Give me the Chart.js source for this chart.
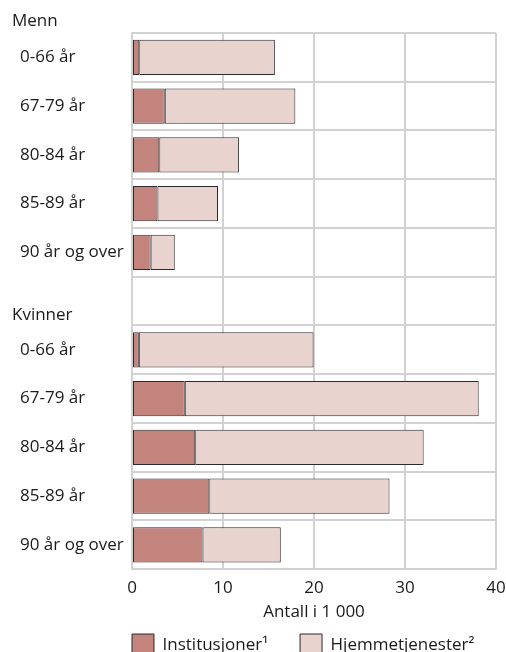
<!DOCTYPE html>
<html><head><meta charset="utf-8">
<script src="https://cdn.jsdelivr.net/npm/chart.js@4"></script>
<style>html,body{margin:0;padding:0;overflow:hidden;background:#fff}</style>
</head><body><canvas id="c" width="506" height="686"></canvas>
<script>
const groupTitles = ['Menn', 'Kvinner'];
const categories = ['0-66 år','67-79 år','80-84 år','85-89 år','90 år og over','','0-66 år','67-79 år','80-84 år','85-89 år','90 år og over'];
const institusjoner = [0.8, 3.6, 3.0, 2.8, 2.05, null, 0.75, 5.8, 6.95, 8.5, 7.75];
const hjemmetjenester = [14.9, 14.35, 8.75, 6.65, 2.65, null, 19.2, 32.3, 25.1, 19.8, 8.6];
const xTicks = [0, 10, 20, 30, 40];
const xTitle = 'Antall i 1 000';
const seriesNames = ['Institusjoner¹', 'Hjemmetjenester²'];

const FONT = '"Open Sans", "DejaVu Sans", sans-serif';
const FS = 17;
const TEXT = '#1a1a1a';
const GRID = '#d2d2d2';

const headings = {
  id: 'headings',
  afterDraw(chart) {
    const ctx = chart.ctx, y = chart.scales.y;
    ctx.save();
    ctx.font = FS + 'px ' + FONT;
    ctx.fillStyle = TEXT;
    ctx.textAlign = 'left';
    ctx.textBaseline = 'middle';
    ctx.fillText(groupTitles[0], 12, y.top - 12);
    ctx.fillText(groupTitles[1], 12, y.getPixelForValue(5) + 14);
    ctx.restore();
  }
};
const legendShift = {
  id: 'legendShift',
  afterLayout(chart) {
    const l = chart.legend;
    const p = l.options.labels.padding;
    const dx = chart.chartArea.left - p - l.left;
    l.left += dx; l.right += dx;
    l.top -= 20; l.bottom -= 20;
  }
};

new Chart(document.getElementById('c'), {
  type: 'bar',
  data: {
    labels: categories,
    datasets: [
      { label: seriesNames[0], data: institusjoner, backgroundColor: '#c3847e', borderColor: '#2b2b2b', borderWidth: 1, borderSkipped: false, barPercentage: 0.72, categoryPercentage: 1 },
      { label: seriesNames[1], data: hjemmetjenester, backgroundColor: '#e8d3ce', borderColor: '#2b2b2b', borderWidth: 1, borderSkipped: false, barPercentage: 0.72, categoryPercentage: 1 }
    ]
  },
  options: {
    indexAxis: 'y',
    responsive: false,
    animation: false,
    devicePixelRatio: 1,
    layout: { padding: { top: 33, left: 20, right: 0, bottom: 0 } },
    plugins: {
      tooltip: { enabled: false },
      legend: {
        position: 'bottom',
        align: 'start',
        labels: { boxWidth: 22, boxHeight: 22, padding: 32, color: TEXT, font: { family: FONT, size: FS } }
      }
    },
    scales: {
      x: {
        stacked: true,
        min: 0, max: 40,
        afterBuildTicks(scale) { scale.ticks = xTicks.map(v => ({ value: v })); },
        afterFit(scale) { scale.paddingRight = 10; scale.paddingLeft = 0; },
        grid: { color: GRID, lineWidth: 2, drawTicks: false },
        border: { color: GRID, width: 2 },
        ticks: { color: TEXT, font: { family: FONT, size: FS }, padding: 9, maxRotation: 0 },
        title: { display: true, text: xTitle, color: TEXT, font: { family: FONT, size: FS }, padding: { top: -6, bottom: 0 } }
      },
      y: {
        stacked: true,
        afterFit(scale) { scale.width = 112; },
        grid: { color: GRID, lineWidth: 2, offset: true, drawTicks: false },
        border: { color: GRID, width: 2 },
        ticks: { color: TEXT, font: { family: FONT, size: FS }, crossAlign: 'far', padding: 0 }
      }
    }
  },
  plugins: [headings, legendShift]
});
</script></body></html>
